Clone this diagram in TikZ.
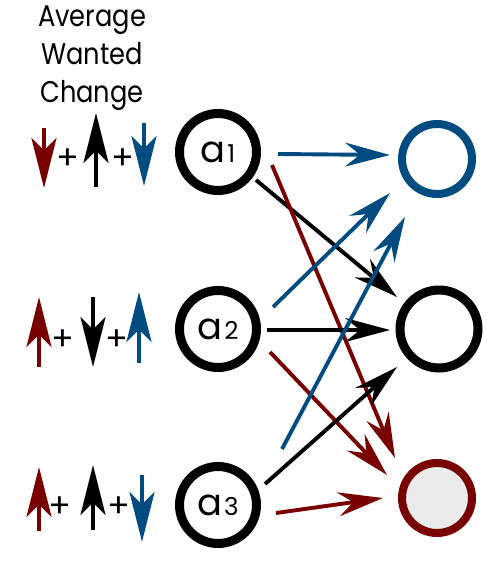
\documentclass[tikz,border=0pt]{standalone}
\usepackage{fontspec}
\setmainfont{Poppins}
\newfontfamily\titlefont[FakeStretch=0.86]{Poppins}
\usetikzlibrary{arrows.meta,calc}
\definecolor{cred}{RGB}{120,0,0}
\definecolor{cblue}{RGB}{0,76,128}
\definecolor{cgray}{RGB}{235,235,235}
\begin{document}
\begin{tikzpicture}[x=0.02cm,y=-0.02cm,
  innode/.style={circle,draw=black,line width=0.18cm,minimum size=1.54cm,inner sep=0pt,font=\fontsize{21}{21}\selectfont},
  outnode/.style={circle,line width=0.16cm,minimum size=1.4cm,inner sep=0pt},
  bignode/.style={circle,line width=0.18cm,minimum size=1.56cm,inner sep=0pt},
  conn/.style={line width=0.078cm,-{Stealth[length=0.9cm,width=0.48cm,inset=0.3cm]}},
  small/.style={line width=0.095cm,-{Stealth[length=1cm,width=0.5cm,inset=0.25cm]}},
  plus/.style={font=\fontsize{19}{19}\selectfont,inner sep=0pt}]
\useasboundingbox (0,0) rectangle (500,581);
% title
\node[align=center,font=\titlefont\fontsize{17}{21.6}\selectfont] (title) at (92,58) {Average\\Wanted\\Change};
% input nodes
\node[innode] (a1) at (218,152) {a\kern1pt{\fontsize{14}{14}\selectfont 1}};
\node[innode] (a2) at (218,329) {a\kern1pt{\fontsize{14}{14}\selectfont 2}};
\node[innode] (a3) at (218,505) {a\kern1pt{\fontsize{14}{14}\selectfont 3}};
% output nodes
\node[outnode,draw=cblue] (o1) at (437,159) {};
\node[bignode,draw=black] (o2) at (439,329) {};
\node[outnode,draw=cred,fill=cgray] (o3) at (437,498) {};
% connectors
\draw[conn,cblue] ($(a1)+(60,2)$) -- ($(o1)+(-47,-4)$);
\draw[conn,black] ($(a1)+(38,28)$) -- ($(o2)+(-42,-32)$);
\draw[conn,cred] ($(a1)+(54,13)$) -- ($(o3)+(-42,-40)$);
\draw[conn,cblue] ($(a2)+(55,-22)$) -- ($(o1)+(-47,34)$);
\draw[conn,black] ($(a2)+(49,1)$) -- ($(o2)+(-49,1)$);
\draw[conn,cred] ($(a2)+(52,23)$) -- ($(o3)+(-50,-23)$);
\draw[conn,cblue] ($(a3)+(64,-56)$) -- ($(o1)+(-32,58)$);
\draw[conn,black] ($(a3)+(47,-21)$) -- ($(o2)+(-42,38)$);
\draw[conn,cred] ($(a3)+(58,8)$) -- ($(o3)+(-54,0)$);
% wanted changes row 1
\draw[small,cred] (44,128) -- (44,188);
\node[plus] (p11) at (68,159) {+};
\draw[small,black] (96,187) -- (96,113);
\node[plus] (p12) at (123,159) {+};
\draw[small,cblue] (144,123) -- (144,186);
% row 2
\draw[small,cred] (39,367) -- (39,297);
\node[plus] (p21) at (63,340) {+};
\draw[small,black] (93,297) -- (93,367);
\node[plus] (p22) at (117,340) {+};
\draw[small,cblue] (139,363) -- (139,292);
% row 3
\draw[small,cred] (39,531) -- (39,467);
\node[plus] (p31) at (60,507) {+};
\draw[small,black] (93,530) -- (93,465);
\node[plus] (p32) at (119,507) {+};
\draw[small,cblue] (142,475) -- (142,542);
\end{tikzpicture}
\end{document}
